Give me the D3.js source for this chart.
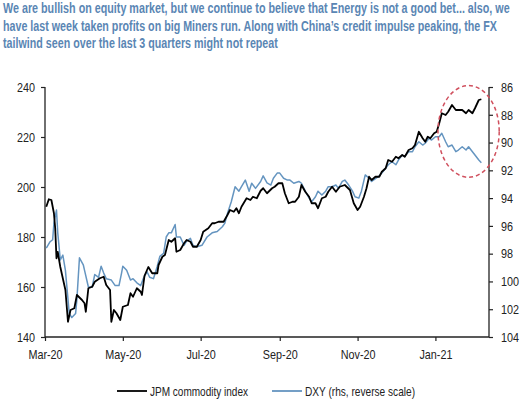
<!DOCTYPE html>
<html>
<head>
<meta charset="utf-8">
<script src="https://cdn.jsdelivr.net/npm/d3@7"></script>
<style>
  html, body { margin: 0; padding: 0; background: #fff; }
  svg text { font-family: "Liberation Sans", Arial, sans-serif; }
</style>
</head>
<body>
<div id="chart"></div>
<script>
// title lines
const titleLines = [
  "We are bullish on equity market, but we continue to believe that Energy is not a good bet... also, we",
  "have last week taken profits on big Miners run. Along with China\u2019s credit impulse peaking, the FX",
  "tailwind seen over the last 3 quarters might not repeat"
];

// JPM commodity index (lhs)
const jpmDates = ["2020-03-02","2020-03-04","2020-03-06","2020-03-08","2020-03-09","2020-03-10","2020-03-11","2020-03-13","2020-03-17","2020-03-19",
  "2020-03-21","2020-03-24","2020-03-26","2020-03-30","2020-04-01","2020-04-02","2020-04-04","2020-04-07","2020-04-09","2020-04-13",
  "2020-04-16","2020-04-18","2020-04-21","2020-04-22","2020-04-24","2020-04-26","2020-04-29","2020-05-01","2020-05-05","2020-05-07",
  "2020-05-09","2020-05-12","2020-05-15","2020-05-16","2020-05-18","2020-05-21","2020-05-24","2020-05-28","2020-05-29","2020-06-01",
  "2020-06-03","2020-06-06","2020-06-08","2020-06-11","2020-06-12","2020-06-15","2020-06-18","2020-06-20","2020-06-23","2020-06-25",
  "2020-06-28","2020-07-01","2020-07-03","2020-07-07","2020-07-10","2020-07-12","2020-07-15","2020-07-19","2020-07-22","2020-07-24",
  "2020-07-27","2020-07-29","2020-07-31","2020-08-02","2020-08-06","2020-08-09","2020-08-11","2020-08-14","2020-08-17","2020-08-19",
  "2020-08-22","2020-08-26","2020-08-28","2020-08-31","2020-09-03","2020-09-05","2020-09-08","2020-09-11","2020-09-13","2020-09-16",
  "2020-09-18","2020-09-21","2020-09-24","2020-09-26","2020-09-29","2020-10-01","2020-10-04","2020-10-07","2020-10-09","2020-10-12",
  "2020-10-15","2020-10-18","2020-10-22","2020-10-26","2020-10-29","2020-11-01","2020-11-03","2020-11-06","2020-11-08","2020-11-10",
  "2020-11-12","2020-11-15","2020-11-18","2020-11-20","2020-11-23","2020-11-25","2020-11-28","2020-12-01","2020-12-03","2020-12-06",
  "2020-12-08","2020-12-11","2020-12-14","2020-12-16","2020-12-19","2020-12-22","2020-12-24","2020-12-26","2020-12-28","2020-12-31",
  "2021-01-02","2021-01-04","2021-01-06","2021-01-09","2021-01-11","2021-01-14","2021-01-17","2021-01-19","2021-01-22","2021-01-25",
  "2021-01-27","2021-01-30","2021-02-01","2021-02-04","2021-02-06"];
const jpmValues = [192.1,195.1,194.8,189.5,183.5,171.5,174,168,158.8,146.1,
  150.8,151.5,156.8,154.8,153.5,150.1,159.5,160.1,162.1,163.5,
  164.1,160.8,158.8,146.1,150.8,149.5,146.8,152.1,152.8,157.5,
  156.1,159.5,158.1,156.8,164.5,168,165.5,165.5,168.8,172.1,
  172.8,178.8,178.1,179.5,174.1,174.8,177.5,178.8,178.1,176.1,
  176.1,178.8,182.1,183.5,185.5,185.5,186.1,186.1,188.8,190.8,
  190.1,191.5,189.5,192.1,195.5,194.8,196.1,195.5,198.5,199.5,
  197.5,199.5,200.1,201.5,201.5,197.5,193.5,194.1,194.1,196.1,
  200.8,198.1,196.1,193.5,193.5,191.5,195.5,196.1,198.1,200.1,
  198.1,200.1,200.8,198.8,193.5,190.8,192.1,196.1,199.5,204.1,
  202.8,204.1,204.1,206.1,207.5,210.8,210.1,212.1,211.5,212.8,
  212.1,214.8,215.5,216.8,222.1,219.5,218.1,220.1,219.5,221.5,
  222.1,225.5,229.5,228.8,230.1,232.8,230.8,230.8,230.8,229.5,
  230.8,229.5,231.5,234.8,235.1];

// DXY (rhs, reverse scale)
const dxyDates = ["2020-03-02","2020-03-05","2020-03-07","2020-03-08","2020-03-10","2020-03-11","2020-03-13","2020-03-15","2020-03-17","2020-03-20",
  "2020-03-22","2020-03-25","2020-03-26","2020-03-28","2020-03-31","2020-04-01","2020-04-04","2020-04-07","2020-04-09","2020-04-12",
  "2020-04-14","2020-04-16","2020-04-18","2020-04-22","2020-04-25","2020-04-28","2020-04-30","2020-05-01","2020-05-04","2020-05-07",
  "2020-05-09","2020-05-12","2020-05-15","2020-05-17","2020-05-20","2020-05-22","2020-05-25","2020-05-28","2020-05-30","2020-06-02",
  "2020-06-04","2020-06-06","2020-06-08","2020-06-11","2020-06-12","2020-06-15","2020-06-18","2020-06-20","2020-06-23","2020-06-25",
  "2020-06-28","2020-07-02","2020-07-06","2020-07-10","2020-07-14","2020-07-18","2020-07-20","2020-07-22","2020-07-25","2020-07-28",
  "2020-07-31","2020-08-02","2020-08-05","2020-08-08","2020-08-10","2020-08-13","2020-08-17","2020-08-19","2020-08-22","2020-08-25",
  "2020-08-27","2020-08-30","2020-09-01","2020-09-04","2020-09-07","2020-09-09","2020-09-12","2020-09-16","2020-09-18","2020-09-21",
  "2020-09-24","2020-09-26","2020-09-29","2020-10-01","2020-10-04","2020-10-07","2020-10-09","2020-10-12","2020-10-15","2020-10-17",
  "2020-10-20","2020-10-22","2020-10-25","2020-10-28","2020-10-30","2020-11-02","2020-11-04","2020-11-07","2020-11-10","2020-11-12",
  "2020-11-15","2020-11-18","2020-11-20","2020-11-23","2020-11-25","2020-11-28","2020-12-01","2020-12-03","2020-12-06","2020-12-08",
  "2020-12-11","2020-12-14","2020-12-16","2020-12-19","2020-12-22","2020-12-24","2020-12-27","2020-12-29","2021-01-01","2021-01-04",
  "2021-01-06","2021-01-09","2021-01-11","2021-01-14","2021-01-17","2021-01-19","2021-01-22","2021-01-25","2021-01-27","2021-01-30",
  "2021-02-01","2021-02-04","2021-02-06"];
const dxyValues = [97.6,97.14,97.0,95.8,94.86,96.5,98.45,98.1,99.2,102.3,
  102.6,102.3,101.3,98.3,98.8,99.2,100.4,100.4,99.5,99.7,
  98.9,99.4,99.8,99.9,100.3,100.3,99.4,98.9,99.2,99.9,
  99.8,100.1,100.3,99.8,99.3,99.7,99.8,98.9,98.2,97.97,
  96.8,96.5,96.5,95.9,96.8,96.8,97.4,97.1,96.9,97.4,
  97.5,97.4,96.8,96.5,96.4,96.06,95.8,95.1,94.26,93.18,
  93.5,93.18,92.7,93.5,92.93,93.3,92.8,92.4,92.9,93.06,
  92.57,92.2,92.2,92.57,92.7,92.7,92.93,92.8,92.93,93.5,
  94.0,94.26,93.9,93.5,93.78,93.5,93.18,93.18,93.06,93.3,
  92.8,92.7,93.06,93.5,93.9,94.0,93.5,92.33,92.57,92.8,
  92.6,92.4,92.2,91.85,91.6,91.38,91.6,91.26,90.9,91.0,
  90.66,90.66,90.3,89.94,90.18,90.05,89.7,89.82,89.58,89.58,
  89.33,89.94,90.3,90.18,90.66,90.54,90.3,90.54,90.3,90.66,
  90.9,91.26,91.45];

const leftTicks = [140, 160, 180, 200, 220, 240];
const rightTicks = [86, 88, 90, 92, 94, 96, 98, 100, 102, 104];
const xTickDates = ["2020-03-01","2020-05-01","2020-07-01","2020-09-01","2020-11-01","2021-01-01"];
const seriesNames = ["JPM commodity index", "DXY (rhs, reverse scale)"];
// highlighted window (circled area)
const highlight = { from: "2021-01-03", to: "2021-02-20", top: 85.9, bottom: 92.5 };

const width = 524, height = 401;
const margin = { top: 87, right: 35, bottom: 64, left: 45 };
const parse = d3.timeParse("%Y-%m-%d");
const narrow = 0.8; // the source uses a condensed face

const jpm = jpmDates.map((d, i) => ({ date: parse(d), value: jpmValues[i] }));
const dxy = dxyDates.map((d, i) => ({ date: parse(d), value: dxyValues[i] }));

const svg = d3.select("#chart").append("svg")
  .attr("width", width)
  .attr("height", height);

// squeeze a text element horizontally
function condense(sel) {
  sel.each(function() {
    const w = this.getComputedTextLength();
    d3.select(this).attr("textLength", w * narrow).attr("lengthAdjust", "spacingAndGlyphs");
  });
}

// title: squeezed with a scale so the text box matches what is drawn
const titleWidths = [507, 494, 275];
svg.append("g").selectAll("text")
  .data(titleLines)
  .enter()
  .append("text")
  .attr("font-size", "14.3px")
  .attr("font-weight", "bold")
  .attr("fill", "#5a86b4")
  .text(d => d)
  .each(function(d, i) {
    const sx = titleWidths[i] / this.getComputedTextLength();
    d3.select(this).attr("transform", `translate(3,${13 + i * 17.5}) scale(${sx},1)`);
  });

const x = d3.scaleTime()
  .domain([parse("2020-03-01"), parse("2021-02-12")])
  .range([margin.left, width - margin.right]);
const yLeft = d3.scaleLinear()
  .domain([140, 240])
  .range([height - margin.bottom, margin.top]);
const yRight = d3.scaleLinear()
  .domain([86, 104])
  .range([margin.top, height - margin.bottom]);

const fmtX = d3.timeFormat("%b-%y");

const xAxis = svg.append("g")
  .attr("transform", `translate(0,${height - margin.bottom})`)
  .call(d3.axisBottom(x).tickValues(xTickDates.map(parse)).tickFormat(fmtX).tickSize(4).tickPadding(8));
const lAxis = svg.append("g")
  .attr("transform", `translate(${margin.left},0)`)
  .call(d3.axisLeft(yLeft).tickValues(leftTicks).tickSize(4).tickPadding(6));
const rAxis = svg.append("g")
  .attr("transform", `translate(${width - margin.right},0)`)
  .call(d3.axisRight(yRight).tickValues(rightTicks).tickSize(4).tickPadding(8));

[xAxis, lAxis, rAxis].forEach(g => {
  g.select(".domain").attr("stroke", "#222").attr("stroke-width", 1.3);
  g.selectAll(".tick line").attr("stroke", "#222").attr("stroke-width", 1.2);
  g.selectAll(".tick text").attr("font-size", "13.5px").attr("fill", "#222")
    .attr("font-family", "'Liberation Sans', Arial, sans-serif")
    .call(condense);
});
// outer ticks only
lAxis.select(".domain").attr("d", `M0,${yLeft(140)}V${yLeft(240)}`);
rAxis.select(".domain").attr("d", `M0,${yRight(86)}V${yRight(104)}`);
xAxis.select(".domain").attr("d", `M${x.range()[0]},0H${x.range()[1]}`);

const lineL = d3.line().x(d => x(d.date)).y(d => yLeft(d.value));
const lineR = d3.line().x(d => x(d.date)).y(d => yRight(d.value));

svg.append("path")
  .datum(dxy)
  .attr("d", lineR)
  .attr("fill", "none")
  .attr("stroke", "#6595c0")
  .attr("stroke-width", 1.5)
  .attr("stroke-linejoin", "round");

svg.append("path")
  .datum(jpm)
  .attr("d", lineL)
  .attr("fill", "none")
  .attr("stroke", "#000")
  .attr("stroke-width", 1.8)
  .attr("stroke-linejoin", "round");

// dashed red ellipse around the recent divergence
const ex0 = x(parse(highlight.from)), ex1 = x(parse(highlight.to));
const ey0 = yRight(highlight.top), ey1 = yRight(highlight.bottom);
svg.append("ellipse")
  .attr("cx", (ex0 + ex1) / 2)
  .attr("cy", (ey0 + ey1) / 2)
  .attr("rx", (ex1 - ex0) / 2)
  .attr("ry", (ey1 - ey0) / 2)
  .attr("fill", "none")
  .attr("stroke", "#d0505e")
  .attr("stroke-width", 1.5)
  .attr("stroke-dasharray", "4,3");

// legend
const legend = svg.append("g").attr("transform", "translate(0,391)");
const legendItems = [
  { name: seriesNames[0], color: "#000", x0: 117, w: 98 },
  { name: seriesNames[1], color: "#6595c0", x0: 272, w: 110 }
];
legendItems.forEach(it => {
  legend.append("line")
    .attr("x1", it.x0).attr("x2", it.x0 + 30)
    .attr("y1", 0).attr("y2", 0)
    .attr("stroke", it.color)
    .attr("stroke-width", 1.8);
  legend.append("text")
    .attr("x", it.x0 + 33)
    .attr("y", 4.5)
    .attr("font-size", "13.5px")
    .attr("fill", "#222")
    .attr("textLength", it.w)
    .attr("lengthAdjust", "spacingAndGlyphs")
    .text(it.name);
});
</script>
</body>
</html>
